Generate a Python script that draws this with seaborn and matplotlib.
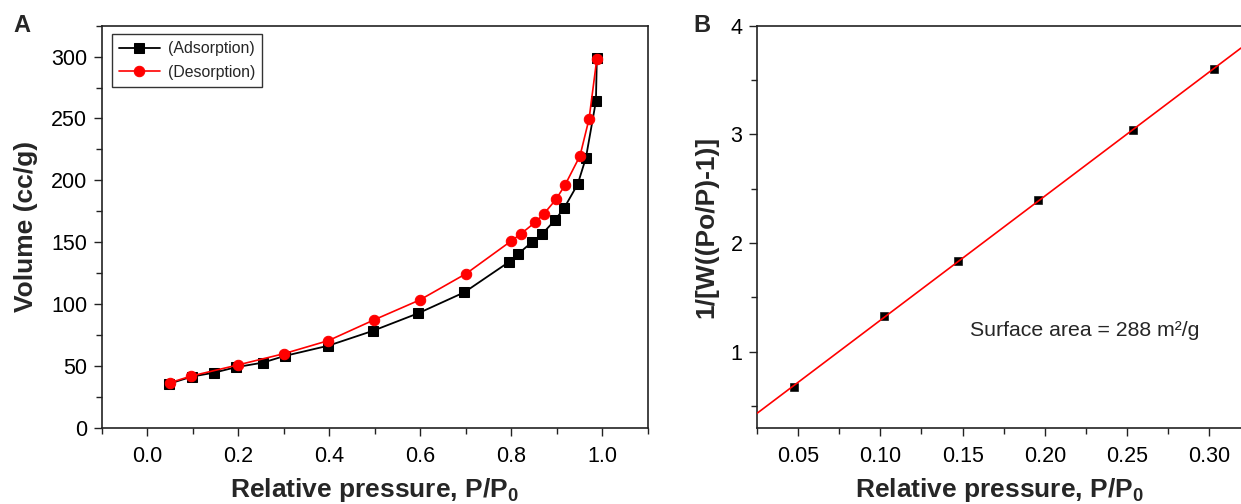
import matplotlib
matplotlib.use("Agg")
import matplotlib.pyplot as plt
import seaborn as sns
import numpy as np
import pandas as pd
from matplotlib.ticker import MultipleLocator

# ---- data ----
ads_p = [0.047, 0.098, 0.147, 0.195, 0.254, 0.302, 0.398, 0.495, 0.596, 0.697,
         0.795, 0.815, 0.846, 0.868, 0.896, 0.916, 0.946, 0.964, 0.986, 0.988]
ads_v = [35.4, 41.3, 44.5, 48.9, 52.6, 58.0, 66.3, 78.2, 92.6, 109.5,
         134.0, 140.5, 150.2, 156.7, 167.8, 177.5, 196.9, 218.2, 264.0, 298.9]
des_p = [0.050, 0.097, 0.199, 0.301, 0.398, 0.498, 0.599, 0.701, 0.800, 0.822,
         0.852, 0.871, 0.898, 0.918, 0.951, 0.971, 0.988]
des_v = [36.4, 41.8, 50.7, 59.9, 70.4, 87.1, 103.3, 124.6, 151.0, 157.0,
         165.9, 172.6, 184.5, 196.1, 219.8, 249.8, 298.3]
bet_p = [0.0474, 0.1023, 0.147, 0.196, 0.2537, 0.3027]
bet_y = [0.676, 1.324, 1.830, 2.395, 3.040, 3.600]
series_labels = ["(Adsorption)", "(Desorption)"]
annotation = "Surface area = 288 m\u00b2/g"

sns.set_style("ticks")
plt.rcParams["font.family"] = ["Liberation Sans", "DejaVu Sans"]
plt.rcParams["mathtext.fontset"] = "custom"
plt.rcParams["mathtext.rm"] = "Liberation Sans"
plt.rcParams["mathtext.bf"] = "Liberation Sans:bold"
plt.rcParams["axes.edgecolor"] = "#222222"

fig = plt.figure(figsize=(12.41, 5.04), dpi=100)
axA = fig.add_axes([0.082, 0.1514, 0.440, 0.7976])
axB = fig.add_axes([0.610, 0.1514, 0.390, 0.7976])

dfa = pd.DataFrame({"p": ads_p, "v": ads_v})
dfd = pd.DataFrame({"p": des_p, "v": des_v})
sns.lineplot(data=dfa, x="p", y="v", sort=False, ax=axA, color="black", lw=1.3,
             marker="s", markersize=7, markeredgecolor="black", label=series_labels[0])
sns.lineplot(data=dfd, x="p", y="v", sort=False, ax=axA, color="red", lw=1.2,
             marker="o", markersize=7.5, markeredgecolor="red", label=series_labels[1])

axA.set_xlim(-0.1, 1.1)
axA.set_ylim(0, 325)
axA.xaxis.set_major_locator(MultipleLocator(0.2))
axA.xaxis.set_minor_locator(MultipleLocator(0.1))
axA.yaxis.set_major_locator(MultipleLocator(50))
axA.yaxis.set_minor_locator(MultipleLocator(25))
axA.xaxis.set_major_formatter(matplotlib.ticker.FormatStrFormatter("%.1f"))
axA.set_xlabel(r"Relative pressure, P/P$_\mathbf{0}$", fontsize=19, fontweight="bold", labelpad=7)
axA.set_ylabel("Volume (cc/g)", fontsize=19, fontweight="bold", labelpad=9)
leg = axA.legend(loc="upper left", bbox_to_anchor=(0.018, 0.979), fontsize=11.4,
                 frameon=True, fancybox=False, edgecolor="black", handlelength=2.6,
                 borderpad=0.45, labelspacing=0.55, handletextpad=0.5, borderaxespad=0.0)
leg.get_frame().set_linewidth(1.0)
for s in axA.spines.values():
    s.set_visible(True)
    s.set_linewidth(1.2)

# Panel B
dfb = pd.DataFrame({"p": bet_p, "y": bet_y})
axB.set_xlim(0.025, 0.3193)
sns.scatterplot(data=dfb, x="p", y="y", ax=axB, marker="s", s=28, color="black",
                edgecolor="black", zorder=2)
sns.regplot(data=dfb, x="p", y="y", ax=axB, scatter=False, ci=None, truncate=False,
            line_kws=dict(color="red", lw=1.2, zorder=3))
axB.set_xlim(0.025, 0.3193)
axB.set_ylim(0.3, 4.0)
axB.xaxis.set_major_locator(MultipleLocator(0.05))
axB.xaxis.set_minor_locator(MultipleLocator(0.025))
axB.yaxis.set_major_locator(MultipleLocator(1))
axB.yaxis.set_minor_locator(MultipleLocator(0.5))
axB.xaxis.set_major_formatter(matplotlib.ticker.FormatStrFormatter("%.2f"))
axB.set_xlabel(r"Relative pressure, P/P$_\mathbf{0}$", fontsize=19, fontweight="bold", labelpad=7)
axB.set_ylabel("1/[W((Po/P)-1)]", fontsize=19, fontweight="bold", labelpad=9)
axB.spines["right"].set_visible(False)
for k in ["left", "top", "bottom"]:
    axB.spines[k].set_visible(True)
    axB.spines[k].set_linewidth(1.2)
axB.text(0.224, 1.19, annotation, fontsize=15.3, ha="center", va="center")

for ax in (axA, axB):
    ax.tick_params(axis="both", which="major", direction="out", length=6, width=1.0,
                   labelsize=15.5, colors="#222222", labelcolor="black")
    ax.tick_params(axis="both", which="minor", direction="out", length=4, width=1.0,
                   colors="#222222")
    ax.tick_params(axis="x", which="major", pad=7)
    ax.tick_params(axis="y", which="major", pad=4.5)
    ax.tick_params(top=False, right=False, which="both")

fig.text(0.018, 0.949, "A", fontsize=17, fontweight="bold", va="center", ha="center")
fig.text(0.566, 0.949, "B", fontsize=17, fontweight="bold", va="center", ha="center")

fig.savefig("out.png", dpi=100)
